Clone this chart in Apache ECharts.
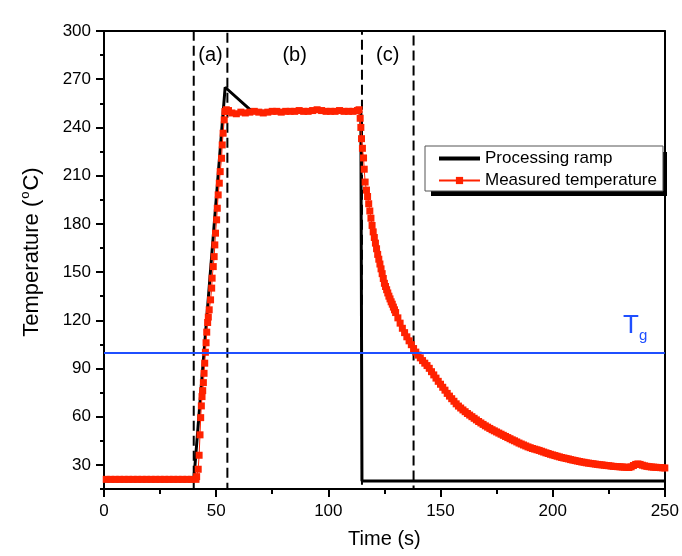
<!DOCTYPE html>
<html>
<head>
<meta charset="utf-8">
<script src="https://cdn.jsdelivr.net/npm/echarts@6/dist/echarts.min.js"></script>
<style>
  html, body { margin: 0; padding: 0; background: #ffffff; }
  #chart { width: 682px; height: 556px; }
</style>
</head>
<body>
<div id="chart"></div>
<script>
// Programmed oven profile (s, °C)
const rampTime = [0, 40, 54, 66, 114.5, 115, 250];
const rampTemp = [20, 20, 265, 250, 250, 20, 20];

// Thermocouple reading (s, °C)
const measTime = [
  1, 3, 5, 7, 9, 11, 13, 15, 17, 19, 21, 23, 25, 27, 29, 31, 33, 35, 37, 39, 41,
  41.3, 42.0, 42.4, 42.8, 43.1, 43.4, 43.7, 44.0, 44.3, 44.6, 44.9, 45.2, 45.5, 45.8,
  46.2, 46.5, 46.9, 47.5, 48.0, 48.2, 48.7, 49.1, 49.4, 49.7, 50.2, 50.5, 50.9, 51.4,
  51.8, 52.4, 52.7, 53.1, 53.6, 53.9,
  54.5, 55.5, 57, 59, 61, 63, 65, 67, 69, 71, 73, 75, 77, 79, 81, 83, 85, 87, 89, 91,
  93, 95, 97, 99, 101, 103, 105, 107, 109, 111, 113, 113.7,
  114.2, 114.5, 114.8, 115.2, 115.7, 116.0, 116.4, 117, 117.5, 118, 118.5, 119, 119.5,
  120, 120.5, 121, 121.5, 122, 122.5, 123, 123.5, 124, 124.5, 125, 125.5, 126, 126.5,
  127, 127.5, 128, 128.5, 129, 129.5, 130, 131, 132, 133, 134, 135, 136, 137, 138, 139,
  140, 141, 142, 143, 144, 145, 146, 147, 148, 149, 150, 151, 152, 153, 154, 155, 156,
  157, 158, 159, 160, 161, 162, 163, 164, 165, 166, 167, 168, 169, 170, 171, 172, 173,
  174, 175, 176, 177, 178, 179, 180, 181, 182, 183, 184, 185, 186, 187, 188, 189, 190,
  191, 192, 193, 194, 195, 196, 197, 198, 199, 200, 201, 202, 203, 204, 205, 206, 207,
  208, 209, 210, 211, 212, 213, 214, 215, 216, 217, 218, 219, 220, 221, 222, 223, 224,
  225, 226, 227, 228, 229, 230, 231, 232, 233, 234, 235, 236, 237, 238, 239, 240, 241,
  242, 243, 244, 245, 246, 247, 248, 249, 250
];
const measTemp = [
  21, 21, 21, 21, 21, 21, 21, 21, 21, 21, 21, 21, 21, 21, 21, 21, 21, 21, 21, 21, 21,
  22.7, 27.3, 36, 48.7, 59.4, 66.7, 72.5, 76.2, 81.2, 87, 93.3, 100.1, 106, 112.6,
  118.6, 122, 126.5, 132.7, 140, 146.2, 153.4, 159.6, 166.9, 174.2, 182.5, 189.7, 198, 205.3,
  212.5, 220.8, 229.1, 236.4, 244.7, 249.9,
  251, 250.5, 249, 248.5, 249.5, 249, 249.5, 250, 249.5, 249, 249.5, 250, 250, 249.5, 250, 250, 250, 250.5, 250, 250,
  250.5, 251, 250.5, 250, 250, 250, 250.5, 250, 250, 250, 250.5, 251,
  245.7, 240, 233, 227, 221, 214, 206, 201, 197, 192.5, 188, 183.5, 179,
  175, 171.5, 168, 164.5, 161, 158, 155, 152, 149, 146, 143, 141, 139, 137,
  135, 133.3, 131.5, 130, 128.2, 126.5, 124.8, 121.5, 118.2, 115, 112.3, 109.7, 107.2, 104.8, 102.4, 100.2,
  98.3, 96.6, 94.9, 93.3, 91.8, 90.1, 88, 86, 84, 82, 80.2, 78.3, 76.5, 74.5, 72.8, 71.2, 69.6,
  68, 66.6, 65.4, 64.2, 63.1, 62, 61, 60, 59, 58, 57, 56.1, 55.2, 54.3, 53.5, 52.7, 51.9,
  51.2, 50.5, 49.8, 49.1, 48.4, 47.7, 47, 46.3, 45.6, 45, 44.3, 43.6, 43, 42.4, 41.8, 41.2, 40.7,
  40.2, 39.8, 39.4, 39, 38.5, 38, 37.5, 37.1, 36.6, 36.2, 35.8, 35.4, 35, 34.6, 34.3, 34, 33.7,
  33.3, 33, 32.7, 32.4, 32.1, 31.8, 31.6, 31.3, 31.1, 30.9, 30.7, 30.5, 30.3, 30.1, 30, 29.8, 29.6,
  29.5, 29.3, 29.1, 29, 28.9, 28.8, 28.7, 28.6, 28.5, 28.4, 28.8, 29.6, 30.3, 30.6, 30.3, 29.8, 29.4,
  29.1, 28.9, 28.7, 28.6, 28.5, 28.4, 28.3, 28.2, 28.1
];

// Glass transition temperature
const tgValue = 100;

// Process stages and their time windows (s)
const stageNames = ['(a)', '(b)', '(c)'];
const stageBounds = [[40, 55], [55, 115], [115, 138]];
const boxedStages = [0, 2];
const stageLabelLevel = 285;

// Axis ticks
const xTickInterval = 50;
const yMajorTicks = [30, 60, 90, 120, 150, 180, 210, 240, 270, 300];

const FONT = '"Liberation Sans", Arial, sans-serif';
const RED = '#ff2200';
const BLUE = '#1f4fff';

const rampData = rampTime.map((t, i) => [t, rampTemp[i]]);
const measData = measTime.map((t, i) => [t, measTemp[i]]);
const stageLabelData = stageNames.map((n, i) => ({
  name: n,
  value: [(stageBounds[i][0] + stageBounds[i][1]) / 2, stageLabelLevel]
}));
const boxAreas = boxedStages.map(i => [{ xAxis: stageBounds[i][0] }, { xAxis: stageBounds[i][1] }]);

const chart = echarts.init(document.getElementById('chart'), null, { renderer: 'canvas' });

const axisLineStyle = { color: '#000', width: 2 };

chart.setOption({
  backgroundColor: '#ffffff',
  animation: false,
  textStyle: { fontFamily: FONT, color: '#000' },
  grid: { left: 104, right: 15, top: 31, bottom: 67, containLabel: false },
  xAxis: [
    {
      type: 'value', min: 0, max: 250, interval: xTickInterval, position: 'bottom',
      axisLine: { show: true, onZero: false, lineStyle: axisLineStyle },
      axisTick: { show: true, inside: false, length: 8, lineStyle: axisLineStyle },
      minorTick: { show: true, splitNumber: 2, length: 5, lineStyle: axisLineStyle },
      axisLabel: { fontSize: 17, color: '#000', fontFamily: FONT, margin: 14 },
      splitLine: { show: false },
      minorSplitLine: { show: false },
      name: 'Time (s)', nameLocation: 'middle', nameGap: 40,
      nameTextStyle: { fontSize: 20, color: '#000', fontFamily: FONT }
    },
    {
      type: 'value', min: 0, max: 250, position: 'top',
      axisLine: { show: true, onZero: false, lineStyle: axisLineStyle },
      axisTick: { show: false }, axisLabel: { show: false }, splitLine: { show: false }
    }
  ],
  yAxis: [
    {
      // minor ticks every 15 °C
      type: 'value', min: 15, max: 300, interval: 15, position: 'left',
      axisLine: { show: true, onZero: false, lineStyle: axisLineStyle },
      axisTick: { show: true, inside: false, length: 4, lineStyle: axisLineStyle },
      axisLabel: { show: false }, splitLine: { show: false }
    },
    {
      type: 'value', min: 15, max: 300, position: 'left',
      axisLine: { show: true, onZero: false, lineStyle: axisLineStyle },
      axisTick: { show: true, inside: false, length: 8, lineStyle: axisLineStyle, customValues: yMajorTicks },
      axisLabel: { show: true, fontSize: 17, color: '#000', fontFamily: FONT, margin: 13, customValues: yMajorTicks },
      splitLine: { show: false },
      name: 'Temperature ({sup|o}C)', nameLocation: 'middle', nameGap: 59, nameRotate: 90,
      nameTextStyle: {
        fontSize: 22, color: '#000', fontFamily: FONT, padding: [0, 0, 0, 16],
        rich: { sup: { fontSize: 13, fontFamily: FONT, color: '#000', padding: [0, 1, 13, 1] } }
      }
    },
    {
      type: 'value', min: 15, max: 300, position: 'right',
      axisLine: { show: true, onZero: false, lineStyle: axisLineStyle },
      axisTick: { show: false }, axisLabel: { show: false }, splitLine: { show: false }
    }
  ],
  legend: {
    data: [
      { name: 'Processing ramp', itemStyle: { color: 'rgba(0,0,0,0)', borderWidth: 0 }, lineStyle: { color: '#000', width: 4 } },
      { name: 'Measured temperature' }
    ],
    orient: 'vertical',
    left: 425, top: 146,
    padding: [4, 6, 2, 12],
    itemWidth: 41, itemHeight: 9, itemGap: 5,
    backgroundColor: '#ffffff',
    borderColor: '#555555', borderWidth: 1,
    textStyle: { fontSize: 17, color: '#000', fontFamily: FONT },
    selectedMode: false,
    z: 10
  },
  series: [
    {
      name: 'Processing ramp', type: 'line', data: rampData,
      xAxisIndex: 0, yAxisIndex: 0,
      symbol: 'none', lineStyle: { color: '#000', width: 3 }, itemStyle: { color: '#000' },
      z: 2,
      markArea: {
        silent: true,
        itemStyle: { color: 'rgba(0,0,0,0)', borderColor: '#000', borderWidth: 2, borderType: [10, 5] },
        data: boxAreas
      }
    },
    {
      name: 'Measured temperature', type: 'line', data: measData,
      xAxisIndex: 0, yAxisIndex: 0,
      symbol: 'rect', symbolSize: 7, showSymbol: true, showAllSymbol: true,
      lineStyle: { color: RED, width: 1 }, itemStyle: { color: RED },
      z: 3,
      markLine: {
        silent: true, symbol: 'none',
        lineStyle: { color: BLUE, width: 2, type: 'solid' },
        label: { show: false },
        data: [{ yAxis: tgValue }]
      }
    },
    {
      name: 'stages', type: 'scatter', data: stageLabelData,
      xAxisIndex: 0, yAxisIndex: 0,
      symbolSize: 0, silent: true,
      itemStyle: { opacity: 1 },
      label: { show: true, position: 'inside', formatter: '{b}', fontSize: 20, color: '#000', fontFamily: FONT }
    }
  ],
  graphic: [
    // drop shadow behind the legend box
    { type: 'rect', left: 431, top: 152, shape: { width: 236, height: 44 }, style: { fill: '#000' }, z: 9, silent: true },
    { type: 'text', left: 623, top: 313, style: { text: 'T', fontSize: 26, fontFamily: FONT, fill: BLUE } },
    { type: 'text', left: 639, top: 328, style: { text: 'g', fontSize: 15, fontFamily: FONT, fill: BLUE } }
  ]
});
</script>
</body>
</html>
